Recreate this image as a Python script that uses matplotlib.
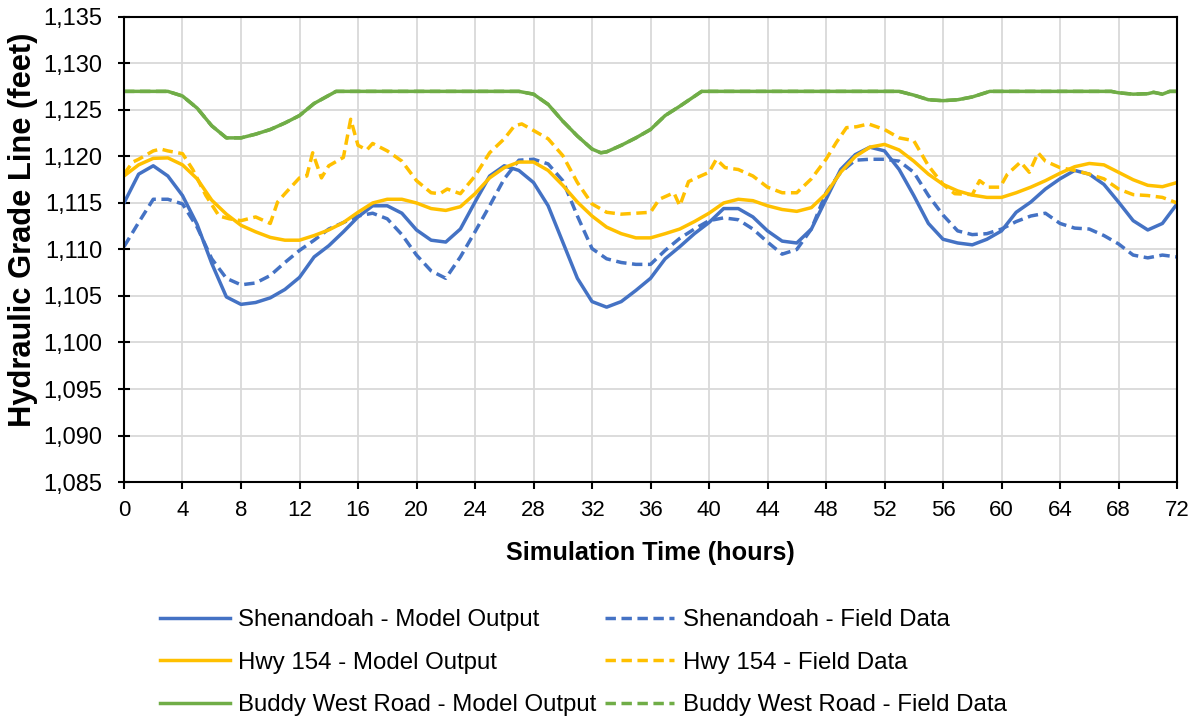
import numpy as np
import matplotlib.pyplot as plt
from matplotlib.ticker import FuncFormatter, MultipleLocator

plt.rcParams['font.family'] = ['Liberation Sans', 'DejaVu Sans']

# Shenandoah - model output (hourly)
shen_model_t = list(range(0, 73))
shen_model = [1115.0, 1118.1, 1119.0, 1117.9, 1115.8, 1112.7, 1108.5, 1104.9, 1104.1, 1104.3,
              1104.8, 1105.7, 1107.0, 1109.2, 1110.4, 1111.9, 1113.5, 1114.7, 1114.7, 1113.9,
              1112.1, 1111.0, 1110.8, 1112.2, 1115.1, 1117.9, 1119.0, 1118.5, 1117.2, 1114.7,
              1110.8, 1106.9, 1104.4, 1103.8, 1104.4, 1105.6, 1106.9, 1109.0, 1110.3, 1111.7,
              1112.9, 1114.4, 1114.4, 1113.5, 1112.0, 1110.9, 1110.7, 1112.2, 1115.4, 1118.6,
              1120.2, 1121.0, 1120.6, 1118.6, 1115.8, 1112.8, 1111.1, 1110.7, 1110.5, 1111.1,
              1112.0, 1114.0, 1115.1, 1116.5, 1117.6, 1118.5, 1118.1, 1117.0, 1115.1, 1113.1,
              1112.1, 1112.8, 1114.9]

# Shenandoah - field data (hourly)
shen_field_t = list(range(0, 73))
shen_field = [1110.3, 1112.9, 1115.4, 1115.4, 1114.9, 1112.4, 1109.0, 1106.9, 1106.2, 1106.4,
              1107.2, 1108.6, 1109.9, 1111.0, 1112.2, 1112.9, 1113.6, 1113.9, 1113.3, 1111.6,
              1109.4, 1107.7, 1106.9, 1109.2, 1111.9, 1114.7, 1117.6, 1119.6, 1119.7, 1119.2,
              1117.4, 1113.6, 1110.1, 1109.0, 1108.6, 1108.4, 1108.4, 1109.9, 1111.2, 1112.2,
              1113.1, 1113.4, 1113.2, 1112.2, 1110.8, 1109.5, 1110.0, 1112.2, 1116.1, 1118.3,
              1119.6, 1119.7, 1119.7, 1119.5, 1118.3, 1115.8, 1113.7, 1112.0, 1111.6, 1111.7,
              1112.2, 1113.0, 1113.6, 1113.9, 1112.8, 1112.3, 1112.2, 1111.5, 1110.6, 1109.4,
              1109.1, 1109.4, 1109.2]

# Hwy 154 - model output (hourly)
hwy_model_t = list(range(0, 73))
hwy_model = [1117.9, 1119.1, 1119.8, 1119.85, 1119.1, 1117.6, 1115.3, 1113.8, 1112.6, 1111.9,
             1111.3, 1111.0, 1111.0, 1111.5, 1112.1, 1112.9, 1114.0, 1115.0, 1115.4, 1115.4,
             1115.0, 1114.4, 1114.2, 1114.6, 1116.0, 1117.7, 1118.8, 1119.4, 1119.4, 1118.5,
             1116.9, 1115.1, 1113.6, 1112.4, 1111.7, 1111.25, 1111.25, 1111.7, 1112.2, 1113.0,
             1113.9, 1115.0, 1115.4, 1115.25, 1114.7, 1114.3, 1114.1, 1114.5, 1116.0, 1118.3,
             1120.0, 1121.0, 1121.3, 1120.7, 1119.5, 1118.1, 1117.0, 1116.3, 1115.85, 1115.6,
             1115.6, 1116.1, 1116.7, 1117.4, 1118.2, 1118.9, 1119.25, 1119.1, 1118.3, 1117.5,
             1116.9, 1116.75, 1117.2]

# Hwy 154 - field data (irregular readings)
hwy_field_t = [0, 0.6, 1, 2, 2.5, 3, 4, 4.7, 5.6, 6.5, 7.2, 8, 9, 10, 10.5, 11, 12, 12.5, 12.9,
               13.5, 14, 15, 15.5, 16, 16.6, 17, 18, 19, 20, 21, 21.6, 22.1, 23, 24, 25, 26,
               26.7, 27.2, 28, 29, 30, 31, 32, 33, 34, 35, 36, 36.6, 37.6, 38, 38.6, 39, 40,
               40.5, 41.1, 42, 43, 44, 45, 46, 47, 48, 48.7, 49.4, 50.1, 50.9, 52, 53, 54, 55,
               56, 56.8, 58, 58.5, 59.1, 59.9, 60.4, 61.3, 61.9, 62.5, 63, 64, 65, 66, 67, 68,
               69, 70, 71, 72]
hwy_field = [1118.1, 1119.4, 1119.7, 1120.6, 1120.8, 1120.6, 1120.3, 1118.6, 1115.8, 1113.6,
             1113.3, 1113.1, 1113.5, 1112.8, 1115.1, 1116.0, 1117.7, 1117.9, 1120.4, 1117.7,
             1119.0, 1119.9, 1124.0, 1121.2, 1120.7, 1121.4, 1120.6, 1119.5, 1117.4, 1116.1,
             1116.0, 1116.5, 1116.0, 1117.9, 1120.4, 1121.9, 1123.3, 1123.5, 1122.8, 1121.9,
             1120.1, 1117.2, 1114.9, 1114.0, 1113.8, 1113.9, 1114.0, 1115.4, 1116.1, 1114.7,
             1117.3, 1117.6, 1118.3, 1119.7, 1118.8, 1118.6, 1117.9, 1116.7, 1116.1, 1116.1,
             1117.6, 1119.7, 1121.5, 1123.1, 1123.2, 1123.5, 1122.9, 1122.0, 1121.7, 1119.0,
             1117.0, 1116.0, 1115.9, 1117.4, 1116.7, 1116.7, 1118.1, 1119.4, 1118.3, 1120.4,
             1119.5, 1118.8, 1118.5, 1118.1, 1117.6, 1116.5, 1115.9, 1115.8, 1115.6, 1115.0]

# Buddy West Road - model output
bw_model_t = [0, 3, 4, 5, 6, 7, 8, 9, 10, 11, 12, 13, 14.5, 27, 28, 29, 30, 31, 32, 32.6, 33,
              34, 35, 36, 37, 38, 39.5, 53, 54, 55, 56, 57, 58, 59.2, 67.5, 68, 69, 70, 70.4,
              71, 71.5, 72]
bw_model = [1127.0, 1127.0, 1126.5, 1125.2, 1123.3, 1122.0, 1122.0, 1122.4, 1122.9, 1123.6,
            1124.4, 1125.7, 1127.0, 1127.0, 1126.7, 1125.6, 1123.8, 1122.2, 1120.8, 1120.4,
            1120.5, 1121.2, 1122.0, 1122.9, 1124.4, 1125.4, 1127.0, 1127.0, 1126.6, 1126.1,
            1126.0, 1126.1, 1126.4, 1127.0, 1127.0, 1126.85, 1126.7, 1126.75, 1126.9, 1126.7,
            1127.0, 1127.0]

# Buddy West Road - field data (sits under the model line)
bw_field_t = bw_model_t
bw_field = bw_model

blue = '#4472C4'
yellow = '#FFC000'
green = '#70AD47'
lw = 2.5
dash = (3.0, 1.6)

fig = plt.figure(figsize=(11.98, 7.16), dpi=100)
ax = fig.add_axes([0.1035, 0.3268, 0.879, 0.6495])

l_bwf, = ax.plot(bw_field_t, bw_field, color=green, lw=lw, dashes=dash)
l_sm, = ax.plot(shen_model_t, shen_model, color=blue, lw=lw)
l_sf, = ax.plot(shen_field_t, shen_field, color=blue, lw=lw, dashes=dash)
l_hm, = ax.plot(hwy_model_t, hwy_model, color=yellow, lw=lw)
l_hf, = ax.plot(hwy_field_t, hwy_field, color=yellow, lw=lw, dashes=dash)
l_bwm, = ax.plot(bw_model_t, bw_model, color=green, lw=lw)

ax.set_xlim(0, 72)
ax.set_ylim(1085, 1135)
ax.xaxis.set_major_locator(MultipleLocator(4))
ax.yaxis.set_major_locator(MultipleLocator(5))
ax.yaxis.set_major_formatter(FuncFormatter(lambda v, p: f'{v:,.0f}'))
ax.grid(True, color='#D9D9D9', lw=1.3)
ax.set_axisbelow(True)
for s in ax.spines.values():
    s.set_color('black')
    s.set_linewidth(1.5)
ax.tick_params(axis='x', direction='out', length=5, width=1.5, labelsize=16, pad=8)
ax.tick_params(axis='y', direction='inout', length=8.5, width=1.5, labelsize=17, pad=11.5)

ax.set_xlabel('Simulation Time (hours)', fontsize=18.2, fontweight='bold', labelpad=14)
ax.set_ylabel('Hydraulic Grade Line (feet)', fontsize=22.2, fontweight='bold')
ax.yaxis.set_label_coords(-0.0817, 0.542)

handles = [l_sm, l_hm, l_bwm, l_sf, l_hf, l_bwf]
labels = ['Shenandoah - Model Output', 'Hwy 154 - Model Output', 'Buddy West Road - Model Output',
          'Shenandoah - Field Data', 'Hwy 154 - Field Data', 'Buddy West Road - Field Data']
fig.legend(handles, labels, ncol=2, loc='center', bbox_to_anchor=(0.487, 0.0745),
           frameon=False, fontsize=17.25, handlelength=2.9, handletextpad=0.37,
           columnspacing=0.33, labelspacing=0.85)

fig.savefig('out.png', dpi=100)
